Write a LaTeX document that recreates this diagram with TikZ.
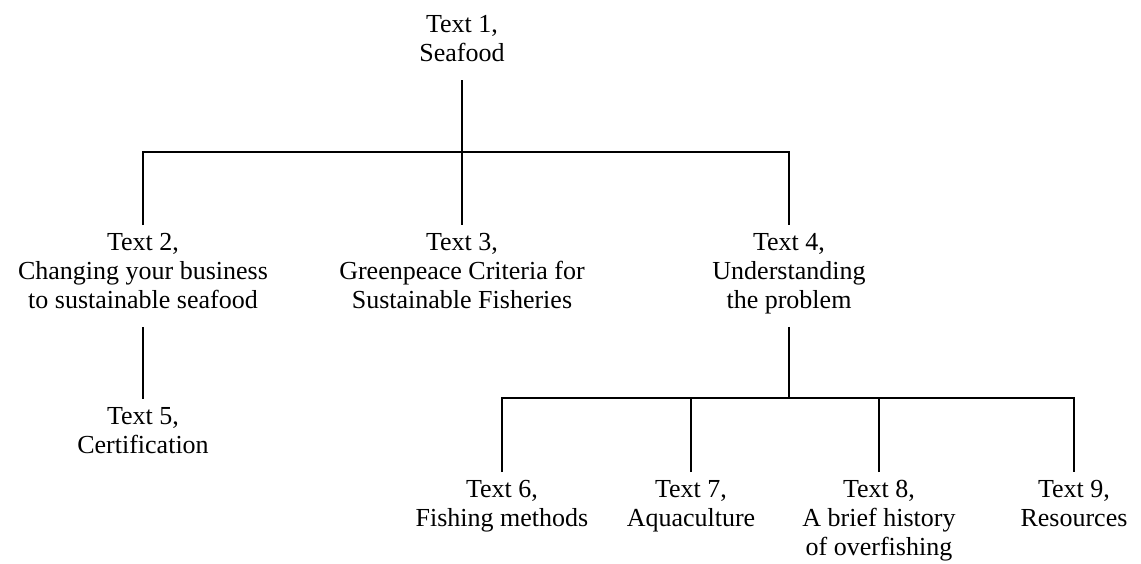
\documentclass[tikz,border=0pt]{standalone}
\usepackage{fontspec}
\setmainfont{Liberation Serif}
\usetikzlibrary{positioning}

\newcommand\topicstrut{\rule[-5pt]{0pt}{14.3pt}}
\tikzset{
  topic/.style={align=center, font=\fontsize{13}{14.5}\selectfont,
    inner xsep=2pt, inner ysep=4pt,
    execute at begin node=\topicstrut, execute at end node=\topicstrut},
  link/.style={line width=1pt}
}

\begin{document}
\begin{tikzpicture}[x=0.5pt,y=-0.5pt]
\useasboundingbox (0,0) rectangle (1141,563);

% topics
\node[topic,anchor=south] (t1) at (462,80) {Text 1,\\ Seafood};
\node[topic,anchor=north] (t2) at (143,225) {Text 2,\\ Changing your business\\ to sustainable seafood};
\node[topic,anchor=north] (t3) at (462,225) {Text 3,\\ Greenpeace Criteria for\\ Sustainable Fisheries};
\node[topic,anchor=north] (t4) at (789,225) {Text 4,\\ Understanding\\ the problem};
\node[topic,anchor=north] (t5) at (143,399) {Text 5,\\ Certification};
\node[topic,anchor=north] (t6) at (502,472) {Text 6,\\ Fishing methods};
\node[topic,anchor=north] (t7) at (691,472) {Text 7,\\ Aquaculture};
\node[topic,anchor=north] (t8) at (879,472) {Text 8,\\ A brief history\\ of overfishing};
\node[topic,anchor=north] (t9) at (1074,472) {Text 9,\\ Resources};

% forks
\coordinate (fork1) at (462,152);
\coordinate (fork4) at (789,398);

% links
\draw[link] (t1.south) -- (fork1);
\draw[link] (t2.north) |- (fork1) -| (t4.north);
\draw[link] (fork1) -- (t3.north);
\draw[link] (t2.south) -- (t5.north);
\draw[link] (t4.south) -- (fork4);
\draw[link] (t6.north) |- (fork4) -| (t9.north);
\draw[link] (t7.north) -- (t7.north |- fork4);
\draw[link] (t8.north) -- (t8.north |- fork4);
\end{tikzpicture}
\end{document}
